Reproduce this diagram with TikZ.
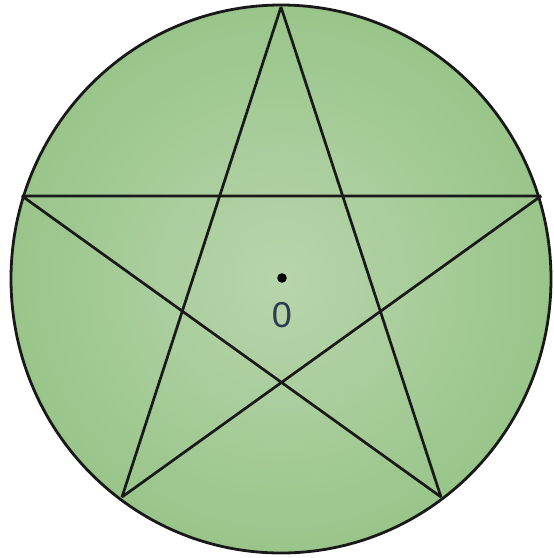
\documentclass[tikz,border=0pt]{standalone}
\usepackage{fontspec}
\setsansfont{Liberation Sans}
\definecolor{ginner}{RGB}{184,213,172}
\definecolor{gouter}{RGB}{153,197,138}
\definecolor{labelc}{RGB}{45,62,80}
\tikzset{
  edge/.style={line width=2.7pt, line join=bevel, black!90},
  rim/.style={line width=2.8pt, black!90},
}
\begin{document}
\begin{tikzpicture}[x=1pt,y=-1pt]
\useasboundingbox (0,0) rectangle (554,558);
\coordinate (O) at (281,279);
\shade[inner color=ginner, outer color=gouter] (O) ellipse [x radius=270, y radius=274];
\coordinate (A) at (281,7);
\coordinate (B) at (541,196);
\coordinate (C) at (441,497);
\coordinate (D) at (122,497);
\coordinate (E) at (22,196);
\draw[edge] (A) -- (C) -- (E) -- (B) -- (D) -- cycle;
\draw[rim] (O) ellipse [x radius=270, y radius=274];
\fill[black] (282,278) circle (4.8);
\node[font=\sffamily\fontsize{36}{40}\selectfont, text=labelc, inner sep=0] (lbl) at (282,315) {0};
\end{tikzpicture}
\end{document}
